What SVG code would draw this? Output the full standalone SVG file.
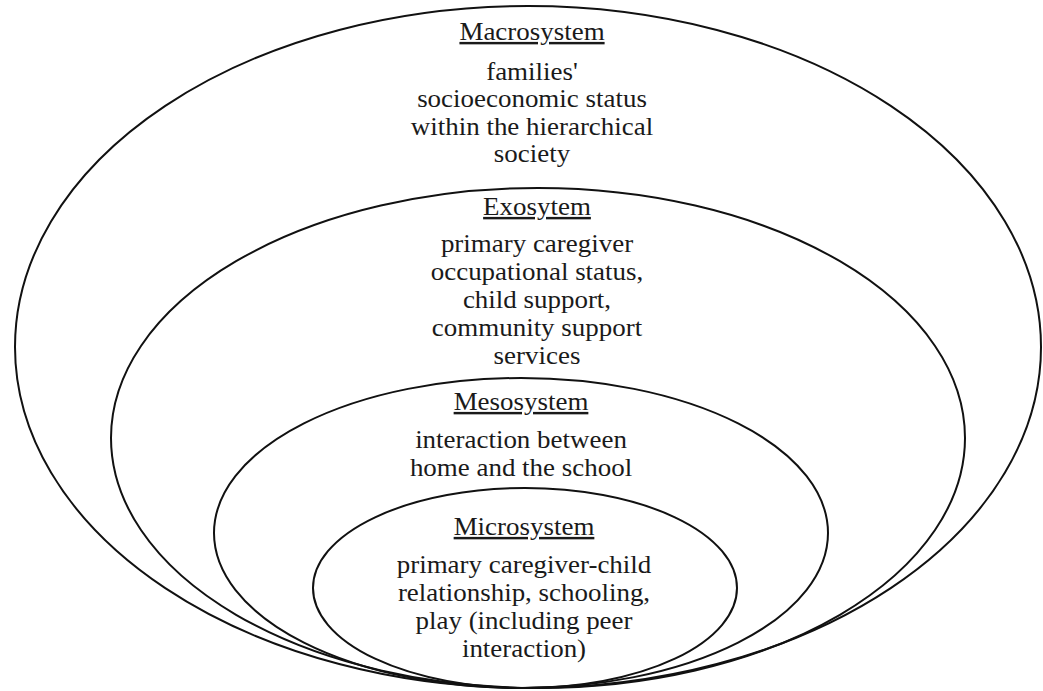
<svg xmlns="http://www.w3.org/2000/svg" width="1043" height="691" viewBox="0 0 1043 691">
<style>
.ring{fill:none;stroke:#111;stroke-width:2}
text{font-family:"Liberation Serif","Times New Roman",serif;font-size:24.5px;fill:#1a1a1a;text-anchor:middle}
.h{text-decoration:underline}
</style>
<rect width="1043" height="691" fill="#fff"/>
<g id="macrosystem">
<ellipse class="ring" cx="528" cy="347" rx="513" ry="341"/>
<g transform="translate(532 0) scale(1.1 1)">
<text class="h" x="0" y="40">Macrosystem</text>
<text x="0" y="80">families'</text>
<text x="0" y="107.5">socioeconomic status</text>
<text x="0" y="135">within the hierarchical</text>
<text x="0" y="162.5">society</text>
</g>
</g>
<g id="exosystem">
<ellipse class="ring" cx="538" cy="438" rx="427" ry="250"/>
<g transform="translate(537 0) scale(1.1 1)">
<text class="h" x="0" y="215">Exosytem</text>
<text x="0" y="252">primary caregiver</text>
<text x="0" y="280">occupational status,</text>
<text x="0" y="308">child support,</text>
<text x="0" y="336">community support</text>
<text x="0" y="364">services</text>
</g>
</g>
<g id="mesosystem">
<ellipse class="ring" cx="521" cy="533" rx="307" ry="155"/>
<g transform="translate(521 0) scale(1.1 1)">
<text class="h" x="0" y="410">Mesosystem</text>
<text x="0" y="448">interaction between</text>
<text x="0" y="476">home and the school</text>
</g>
</g>
<g id="microsystem">
<ellipse class="ring" cx="525" cy="588" rx="212" ry="100"/>
<g transform="translate(524 0) scale(1.1 1)">
<text class="h" x="0" y="535">Microsystem</text>
<text x="0" y="573">primary caregiver-child</text>
<text x="0" y="601">relationship, schooling,</text>
<text x="0" y="629">play (including peer</text>
<text x="0" y="657">interaction)</text>
</g>
</g>
<g id="connectors"></g>
</svg>
